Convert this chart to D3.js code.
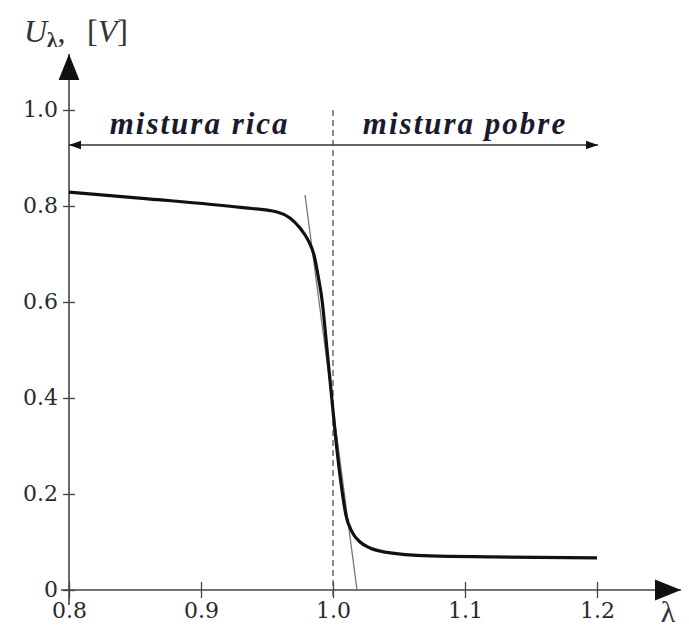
<!DOCTYPE html>
<html>
<head>
<meta charset="utf-8">
<script src="https://cdn.jsdelivr.net/npm/d3@7"></script>
<style>
  body { margin: 0; background: #fff; }
  svg { display: block; }
</style>
</head>
<body>
<svg width="689" height="629"></svg>
<script>
// lambda sensor curve
var lambdaVals = [0.80, 0.86, 0.93, 0.9576, 0.9674, 0.975, 0.9811, 0.9856, 0.9886, 0.9917, 0.9955, 0.9992, 1.003, 1.0068, 1.0098, 1.0144, 1.0205, 1.028, 1.0394, 1.0735, 1.12, 1.20];
var voltVals   = [0.829, 0.815, 0.797, 0.7875, 0.775, 0.754, 0.729, 0.698, 0.656, 0.604, 0.500, 0.396, 0.292, 0.208, 0.156, 0.121, 0.100, 0.0875, 0.079, 0.071, 0.069, 0.067];
var tangentLambda = [0.9788, 1.0182];
var tangentVolt   = [0.823, 0];
var xTicks = [0.8, 0.9, 1.0, 1.1, 1.2];
var yTicks = [0, 0.2, 0.4, 0.6, 0.8, 1.0];
var regionLabels = ["mistura rica", "mistura pobre"];

var svg = d3.select("svg");
var x = d3.scaleLinear().domain([0.8, 1.2]).range([69, 597]);
var y = d3.scaleLinear().domain([0, 1]).range([590, 110]);
var axisCol = "#444";
var serif = "'Liberation Serif', 'Times New Roman', serif";
var tickFont = "'DejaVu Serif', serif";

var defs = svg.append("defs");
defs.append("marker").attr("id", "big").attr("viewBox", "0 0 10 10")
  .attr("refX", 10).attr("refY", 5).attr("markerWidth", 26).attr("markerHeight", 26)
  .attr("markerUnits", "userSpaceOnUse").attr("orient", "auto")
  .append("path").attr("d", "M0,1 L10,5 L0,9 Z").attr("fill", "#111");
defs.append("marker").attr("id", "small").attr("viewBox", "0 0 10 10")
  .attr("refX", 10).attr("refY", 5).attr("markerWidth", 12).attr("markerHeight", 12)
  .attr("markerUnits", "userSpaceOnUse").attr("orient", "auto-start-reverse")
  .append("path").attr("d", "M0,1.5 L10,5 L0,8.5 Z").attr("fill", "#111");

// x axis
var gx = svg.append("g").attr("transform", "translate(0," + y(0) + ")")
  .call(d3.axisBottom(x).tickValues(xTicks).tickFormat(d3.format(".1f")).tickSize(8).tickPadding(4));
gx.attr("font-family", null);
gx.select(".domain").remove();
gx.selectAll(".tick line").attr("y1", -8).attr("y2", 8).attr("stroke", axisCol).attr("stroke-width", 1.3);
gx.selectAll(".tick text").style("font-family", tickFont).attr("font-size", 22).attr("fill", "#2a2a2a");
svg.append("line").attr("x1", x(0.8) - 8).attr("x2", 681).attr("y1", y(0)).attr("y2", y(0))
  .attr("stroke", axisCol).attr("stroke-width", 1.6).attr("marker-end", "url(#big)");

// y axis
var gy = svg.append("g").attr("transform", "translate(" + x(0.8) + ",0)")
  .call(d3.axisLeft(y).tickValues(yTicks).tickFormat(function(d) { return d === 0 ? "0" : d3.format(".1f")(d); }).tickSize(7).tickPadding(4));
gy.attr("font-family", null);
gy.select(".domain").remove();
gy.selectAll(".tick line").attr("x1", -6).attr("x2", 6).attr("stroke", axisCol).attr("stroke-width", 1.3);
gy.selectAll(".tick text").attr("dy", "0.3em").style("font-family", tickFont).attr("font-size", 22).attr("fill", "#2a2a2a");
svg.append("line").attr("x1", x(0.8)).attr("x2", x(0.8)).attr("y1", 605).attr("y2", 54)
  .attr("stroke", axisCol).attr("stroke-width", 1.6).attr("marker-end", "url(#big)");

// axis labels
var yl = svg.append("text").attr("y", 42)
  .attr("font-family", serif).attr("font-size", 32).attr("fill", "#333");
yl.append("tspan").attr("x", 24).attr("font-style", "italic").text("U");
yl.append("tspan").attr("font-size", 21).attr("font-weight", "bold").attr("dy", 5).text("λ");
yl.append("tspan").attr("dy", -5).text(",");
yl.append("tspan").attr("x", 87).text("[");
yl.append("tspan").attr("font-style", "italic").text("V");
yl.append("tspan").text("]");
svg.append("text").attr("x", 668).attr("y", 622).attr("text-anchor", "middle")
  .attr("font-family", serif).attr("font-size", 30).attr("fill", "#333").text("λ");

// dashed stoichiometric line
svg.append("line").attr("x1", x(1.0)).attr("x2", x(1.0)).attr("y1", y(1.0)).attr("y2", 600)
  .attr("stroke", "#555").attr("stroke-width", 1.3).attr("stroke-dasharray", "6,4");

// region arrow
var arrowY = 145;
svg.append("line").attr("x1", x(0.8)).attr("x2", x(1.2) + 1).attr("y1", arrowY).attr("y2", arrowY)
  .attr("stroke", "#333").attr("stroke-width", 1.5)
  .attr("marker-start", "url(#small)").attr("marker-end", "url(#small)");
var labelPos = [0.899, 1.1];
svg.selectAll(".region").data(regionLabels).enter().append("text")
  .attr("class", "region")
  .attr("x", function(d, i) { return x(labelPos[i]); })
  .attr("y", 134).attr("text-anchor", "middle")
  .attr("font-family", serif).attr("font-style", "italic").attr("font-weight", "bold")
  .attr("font-size", 31).attr("fill", "#1a1a2e").attr("letter-spacing", 2)
  .text(function(d) { return d; });

// tangent
svg.append("line")
  .attr("x1", x(tangentLambda[0])).attr("y1", y(tangentVolt[0]))
  .attr("x2", x(tangentLambda[1])).attr("y2", y(tangentVolt[1]))
  .attr("stroke", "#777").attr("stroke-width", 1.3);

// curve
var pts = lambdaVals.map(function(l, i) { return [l, voltVals[i]]; });
var line = d3.line().x(function(d) { return x(d[0]); }).y(function(d) { return y(d[1]); }).curve(d3.curveMonotoneX);
svg.append("path").datum(pts).attr("d", line)
  .attr("fill", "none").attr("stroke", "#111").attr("stroke-width", 3.2).attr("stroke-linejoin", "round");
</script>
</body>
</html>
